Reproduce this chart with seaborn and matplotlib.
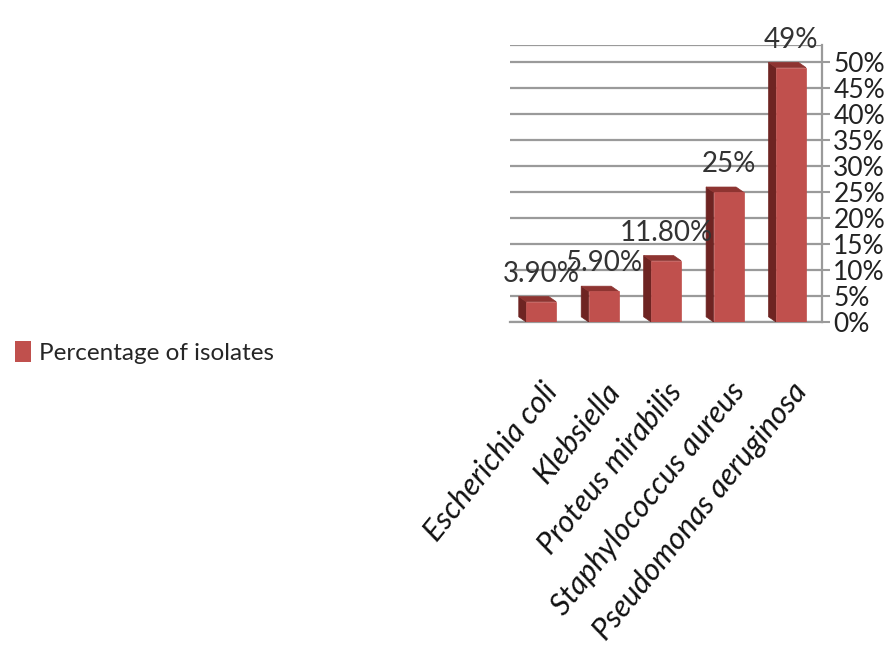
import matplotlib
matplotlib.use("Agg")
import matplotlib.pyplot as plt
from matplotlib.patches import Polygon, Rectangle
import seaborn as sns
import pandas as pd

categories = ["Escherichia coli", "Klebsiella", "Proteus mirabilis",
              "Staphylococcus aureus", "Pseudomonas aeruginosa"]
values = [3.9, 5.9, 11.8, 25.0, 49.0]
value_labels = ["3.90%", "5.90%", "11.80%", "25%", "49%"]
y_ticks = [0, 5, 10, 15, 20, 25, 30, 35, 40, 45, 50]
y_tick_labels = [f"{t}%" for t in y_ticks]
series_name = "Percentage of isolates"

sns.set_theme(style="white")
plt.rcParams["font.family"] = ["Lato", "DejaVu Sans"]

df = pd.DataFrame({"organism": categories, "pct": values})

BAR = "#C0504D"
DARK = "#6E2422"
TOP = "#8E3431"
GRID = "#9A9A9A"

fig = plt.figure(figsize=(8.87, 6.62), dpi=100)
ax = fig.add_axes([0.575, 0.5136, 0.352, 0.418])

sns.barplot(data=df, x="organism", y="pct", color=BAR, width=0.48,
            saturation=1, ax=ax, zorder=3, edgecolor=BAR, linewidth=0.5)

# pseudo 3D side faces
dx, dy = 0.12, 1.0
for p in list(ax.patches):
    x0, w, h = p.get_x(), p.get_width(), p.get_height()
    side = Polygon([(x0, 0), (x0 - dx, dy), (x0 - dx, h + dy), (x0, h)],
                   closed=True, facecolor=DARK, edgecolor=DARK, lw=0.5, zorder=2.9)
    top = Polygon([(x0, h), (x0 - dx, h + dy), (x0 + w - dx, h + dy), (x0 + w, h)],
                  closed=True, facecolor=TOP, edgecolor=TOP, lw=0.5, zorder=2.9)
    ax.add_patch(side)
    ax.add_patch(top)

ax.set_ylim(0, 53.3)
ax.set_xlim(-0.5, 4.5)
ax.yaxis.tick_right()
ax.set_yticks(y_ticks)
ax.set_yticklabels(y_tick_labels, fontsize=19, color="#222222")
ax.tick_params(axis="y", direction="out", length=6, width=1.5, color=GRID, pad=2)
ax.grid(axis="y", color=GRID, lw=1.6, zorder=0)
ax.set_axisbelow(True)

for s in ["left", "top"]:
    ax.spines[s].set_visible(False)
ax.spines["right"].set_color(GRID)
ax.spines["right"].set_linewidth(1.6)
ax.spines["bottom"].set_color(GRID)
ax.spines["bottom"].set_linewidth(1.6)
ax.axhline(53.3, color=GRID, lw=1.6, zorder=0)

ax.set_xticks(range(len(categories)))
ax.set_xticklabels(categories, rotation=51, ha="right", va="top",
                   rotation_mode="anchor", fontsize=22, style="italic", color="#111111")
ax.tick_params(axis="x", length=0, pad=40)
ax.set_xticks([i - 0.5 for i in range(len(categories) + 1)], minor=True)
ax.tick_params(axis="x", which="minor", direction="out", length=8, width=1.5, color=GRID)
ax.set_xlabel("")
ax.set_ylabel("")

bars = [pp for pp in ax.patches if isinstance(pp, Rectangle)][:5]
for p, lab in zip(bars, value_labels):
    ax.annotate(lab, (p.get_x() + p.get_width() / 2, p.get_height() + 1.0),
                xytext=(0, 7), textcoords="offset points", ha="center", va="bottom",
                fontsize=20, color="#333333", annotation_clip=False, zorder=5)

# legend on the left
handle = Rectangle((0, 0), 1, 1, facecolor=BAR, edgecolor="none")
fig.legend([handle], [series_name], loc="center left", bbox_to_anchor=(0.006, 0.468),
           frameon=False, fontsize=17.5, handlelength=0.65, handleheight=1.0,
           handletextpad=0.35, borderaxespad=0)

fig.savefig("out.png", dpi=100)
